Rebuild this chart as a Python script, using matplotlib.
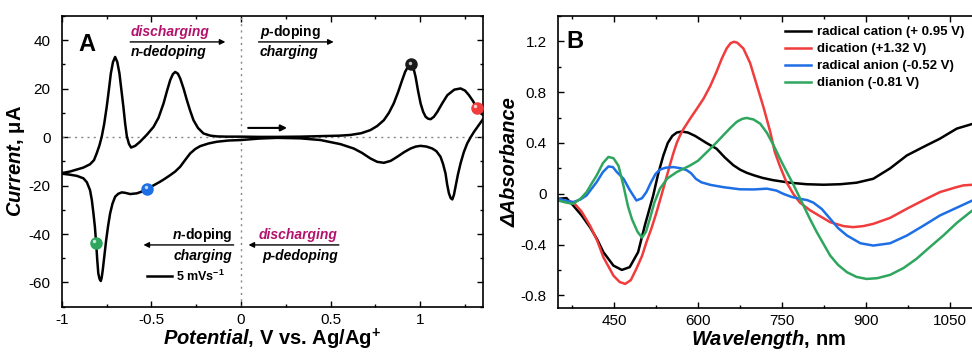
import matplotlib
matplotlib.use("Agg")
import matplotlib.pyplot as plt
from matplotlib.ticker import AutoMinorLocator, FuncFormatter, MultipleLocator
from matplotlib.transforms import offset_copy

plt.rcParams['font.family'] = 'Liberation Sans'
plt.rcParams['axes.unicode_minus'] = False
plt.rcParams['mathtext.fontset'] = 'custom'
plt.rcParams['mathtext.rm'] = 'Liberation Sans'
plt.rcParams['mathtext.it'] = 'Liberation Sans:italic:bold'
plt.rcParams['mathtext.bf'] = 'Liberation Sans:bold'

# ---- Panel A: cyclic voltammogram (anodic branch, then cathodic branch) ----
E_anodic = [-1.01, -0.954, -0.916, -0.88, -0.842, -0.82, -0.805, -0.79, -0.777, -0.763,
            -0.749, -0.737, -0.726, -0.714, -0.702, -0.690, -0.678, -0.667, -0.656, -0.646,
            -0.637, -0.625, -0.613, -0.59, -0.563, -0.525, -0.488, -0.46, -0.432, -0.413,
            -0.395, -0.38, -0.367, -0.352, -0.339, -0.32, -0.302, -0.283, -0.265, -0.24,
            -0.209, -0.17, -0.134, -0.08, 0.0, 0.1, 0.2, 0.331, 0.45, 0.55,
            0.61, 0.67, 0.722, 0.76, 0.797, 0.825, 0.852, 0.876, 0.899, 0.916,
            0.931, 0.942, 0.95, 0.962, 0.974, 0.988, 1.002, 1.016, 1.03, 1.044,
            1.058, 1.076, 1.095, 1.123, 1.151, 1.19, 1.225, 1.25, 1.272, 1.295,
            1.315, 1.335, 1.365]
I_anodic = [-15.0, -14.2, -13.4, -12.6, -11.2, -9.5, -6.7, -3.5, 0.1, 5.5,
            12.5, 19.5, 26.3, 31.0, 33.1, 31.0, 26.3, 19.5, 12.5, 5.5,
            0.5, -2.8, -4.3, -3.6, -1.9, 1.0, 4.2, 8.0, 13.9, 19.0,
            23.5, 26.0, 26.9, 26.2, 24.2, 20.0, 15.3, 10.8, 7.0, 3.8,
            1.5, 0.6, 0.3, 0.2, 0.2, 0.1, 0.1, 0.2, 0.4, 0.6,
            0.9, 1.6, 2.9, 4.6, 7.0, 10.0, 13.9, 18.5, 23.5, 27.0,
            29.0, 30.0, 30.1, 28.5, 24.9, 19.0, 13.9, 10.5, 8.4, 7.6,
            7.4, 8.4, 10.4, 14.0, 17.3, 19.6, 20.1, 19.2, 17.3, 14.8,
            12.1, 10.0, 8.3]

E_cathodic = [1.365, 1.35, 1.325, 1.3, 1.28, 1.262, 1.243, 1.225, 1.21, 1.197,
              1.188, 1.179, 1.17, 1.16, 1.15, 1.141, 1.127, 1.113, 1.09, 1.067,
              1.035, 1.002, 0.975, 0.946, 0.91, 0.872, 0.835, 0.797, 0.76, 0.722,
              0.675, 0.629, 0.555, 0.443, 0.331, 0.2, 0.1, 0.0, -0.07, -0.134,
              -0.18, -0.227, -0.255, -0.283, -0.31, -0.339, -0.367, -0.395, -0.425, -0.451,
              -0.49, -0.522, -0.55, -0.581, -0.618, -0.645, -0.665, -0.685, -0.702, -0.717,
              -0.730, -0.741, -0.752, -0.762, -0.771, -0.777, -0.782, -0.789, -0.796, -0.802,
              -0.808, -0.815, -0.823, -0.832, -0.842, -0.86, -0.879, -0.915, -0.954, -1.01]
I_cathodic = [8.3, 7.4, 4.8, 2.2, -0.2, -2.6, -6.2, -10.8, -15.5, -20.5,
              -23.8, -25.7, -25.2, -23.2, -19.5, -15.0, -11.0, -8.1, -5.8, -4.7,
              -3.9, -3.6, -3.9, -4.7, -6.2, -8.1, -9.8, -10.6, -10.2, -8.8,
              -6.5, -4.7, -2.9, -1.2, -0.5, -0.3, -0.6, -1.2, -1.4, -1.9,
              -2.6, -3.7, -4.9, -6.7, -9.3, -12.2, -14.2, -15.7, -17.2, -18.4,
              -20.0, -21.4, -22.4, -23.2, -23.5, -23.0, -22.8, -23.4, -24.6, -27.5,
              -31.5, -36.5, -42.5, -49.0, -54.8, -58.0, -59.4, -58.5, -56.2, -50.5,
              -43.6, -37.0, -31.5, -26.0, -21.9, -18.6, -17.0, -16.0, -15.5, -15.0]

# marked potentials (spectra taken there)
dot_E = [0.95, 1.317, -0.522, -0.808]
dot_I = [30.1, 12.1, -21.4, -43.6]
dot_colors = ['#1a1a1a', '#f03c3c', '#1e6fe6', '#2ea65e']

# ---- Panel B: difference absorption spectra ----
wl_cation = [350, 365, 377, 392, 407, 420, 431, 449, 464, 478, 493, 505, 520, 529, 538,
             546, 554, 562, 571, 582, 595, 615, 633, 648, 663, 675, 687, 700, 715, 734,
             764, 794, 824, 854, 883, 913, 943, 973, 1003, 1032, 1062, 1090]
abs_cation = [-0.04, -0.034, -0.092, -0.17, -0.263, -0.36, -0.46, -0.566, -0.60, -0.578,
              -0.46, -0.25, -0.013, 0.16, 0.30, 0.40, 0.455, 0.482, 0.49, 0.482,
              0.455, 0.40, 0.355, 0.285, 0.225, 0.19, 0.165, 0.145, 0.125, 0.107,
              0.087, 0.075, 0.071, 0.075, 0.087, 0.118, 0.20, 0.302, 0.37, 0.434,
              0.513, 0.55]

wl_dication = [350, 365, 377, 392, 407, 420, 431, 449, 460, 470, 480, 490, 500, 508, 517,
               526, 538, 550, 556, 562, 568, 574, 586, 598, 610, 622, 633, 642, 651, 658,
               664, 670, 681, 693, 705, 717, 729, 737, 746, 758, 770, 782, 800, 836, 860,
               877, 895, 913, 943, 973, 1003, 1032, 1060, 1074, 1090]
abs_dication = [-0.053, -0.06, -0.066, -0.14, -0.25, -0.37, -0.5, -0.645, -0.695, -0.71,
                -0.68, -0.59, -0.49, -0.38, -0.27, -0.145, 0.04, 0.23, 0.32, 0.40,
                0.46, 0.51, 0.592, 0.67, 0.75, 0.85, 0.96, 1.06, 1.144, 1.185,
                1.197, 1.19, 1.144, 1.03, 0.855, 0.68, 0.487, 0.33, 0.22, 0.09,
                0.0, -0.07, -0.13, -0.224, -0.255, -0.263, -0.255, -0.237, -0.19, -0.118,
                -0.05, 0.013, 0.05, 0.066, 0.071]

wl_anion = [350, 365, 377, 390, 401, 410, 419, 430, 440, 448, 455, 467, 478, 490, 500,
            508, 516, 524, 532, 542, 556, 570, 580, 588, 596, 606, 622, 645, 675, 700,
            723, 740, 752, 767, 782, 795, 806, 821, 836, 850, 866, 890, 913, 943, 973,
            1003, 1032, 1062, 1090]
abs_anion = [-0.039, -0.055, -0.066, -0.045, -0.013, 0.04, 0.092, 0.17, 0.215, 0.21,
             0.171, 0.118, 0.03, -0.053, -0.035, 0.015, 0.09, 0.155, 0.19, 0.205,
             0.21, 0.2, 0.185, 0.16, 0.118, 0.09, 0.07, 0.052, 0.035, 0.034,
             0.04, 0.025, 0.0, -0.025, -0.04, -0.05, -0.07, -0.12, -0.197, -0.27,
             -0.329, -0.39, -0.408, -0.39, -0.329, -0.25, -0.171, -0.11, -0.053]

wl_dianion = [350, 365, 377, 390, 401, 410, 419, 430, 440, 449, 458, 467, 475, 482, 492,
              500, 507, 514, 522, 532, 545, 562, 586, 600, 616, 630, 645, 658, 669, 679,
              687, 699, 711, 723, 735, 747, 758, 770, 788, 800, 812, 836, 850, 866, 883,
              901, 920, 943, 967, 990, 1014, 1038, 1062, 1090]
abs_dianion = [-0.053, -0.07, -0.079, -0.04, 0.013, 0.08, 0.144, 0.24, 0.29, 0.28,
               0.22, 0.06, -0.1, -0.2, -0.3, -0.345, -0.30, -0.197, -0.07, 0.04,
               0.12, 0.171, 0.223, 0.26, 0.329, 0.39, 0.46, 0.52, 0.566, 0.59,
               0.597, 0.585, 0.552, 0.48, 0.381, 0.27, 0.175, 0.075, -0.09, -0.2,
               -0.302, -0.487, -0.56, -0.618, -0.655, -0.671, -0.665, -0.639, -0.585, -0.513,
               -0.42, -0.329, -0.23, -0.131]

spectra = [
    (wl_cation, abs_cation, 'black', 'radical cation (+ 0.95 V)'),
    (wl_dication, abs_dication, '#f03c3c', 'dication (+1.32 V)'),
    (wl_anion, abs_anion, '#1e6fe6', 'radical anion (-0.52 V)'),
    (wl_dianion, abs_dianion, '#2ea65e', 'dianion (-0.81 V)'),
]

MAGENTA = '#b3126c'
fmt = FuncFormatter(lambda v, p: '%g' % v)


def style_axes(ax):
    for s in ax.spines.values():
        s.set_linewidth(1.2)
    ax.xaxis.set_minor_locator(AutoMinorLocator(2))
    ax.yaxis.set_minor_locator(AutoMinorLocator(2))
    ax.tick_params(which='both', direction='in', top=True, right=True, width=1.0)
    ax.tick_params(which='major', length=4.5, labelsize=11)
    ax.tick_params(which='minor', length=2.5)
    ax.tick_params(axis='x', pad=4.5)
    ax.tick_params(axis='y', pad=8)
    ax.xaxis.set_major_formatter(fmt)
    ax.yaxis.set_major_formatter(fmt)


fig = plt.figure(figsize=(9.72, 3.54), dpi=100)

# ---------------- Panel A ----------------
axA = fig.add_axes([0.0635, 0.1336, 0.4334, 0.8212])
axA.axhline(0, color='#888888', ls=(0, (1.5, 3)), lw=1)
axA.axvline(0, color='#888888', ls=(0, (1.5, 3)), lw=1)
axA.plot(E_anodic + E_cathodic, I_anodic + I_cathodic, color='black', lw=1.8,
         solid_joinstyle='round')

for e, i, c in zip(dot_E, dot_I, dot_colors):
    axA.plot([e], [i], 'o', ms=8, color=c, mec=c, zorder=5, clip_on=False)
    hl = offset_copy(axA.transData, fig=fig, x=-1.2, y=1.2, units='points')
    axA.plot([e], [i], 'o', ms=2.5, color='white', alpha=0.75, mew=0,
             transform=hl, zorder=6, clip_on=False)

axA.set_xlim(-1, 1.35)
axA.set_ylim(-70, 50)
axA.xaxis.set_major_locator(MultipleLocator(0.5))
axA.yaxis.set_major_locator(MultipleLocator(20))
style_axes(axA)
axA.set_xlabel(r'$\mathit{Potential}$, V vs. Ag/Ag$^{\mathbf{+}}$', fontsize=14.5,
               fontweight='bold', labelpad=0)
axA.set_ylabel(r'$\mathit{Current}$, μA', fontsize=14.5, fontweight='bold', labelpad=1)

axA.text(-0.86, 38.4, 'A', fontsize=17, fontweight='bold', ha='center', va='center')

arrow_kw = dict(arrowstyle='-|>', color='black', lw=1.0, mutation_scale=8,
                shrinkA=0, shrinkB=0)
# upper annotations
axA.text(-0.615, 43.4, 'discharging', color=MAGENTA, fontsize=10, fontweight='bold',
         style='italic', ha='left', va='center')
axA.annotate('', xy=(-0.087, 39.3), xytext=(-0.618, 39.3), arrowprops=arrow_kw)
axA.text(-0.615, 35.0, 'n-dedoping', fontsize=10, fontweight='bold', style='italic',
         ha='left', va='center')
axA.text(0.104, 43.4, r'$\mathit{p}$-doping', fontsize=10, fontweight='bold',
         ha='left', va='center')
axA.annotate('', xy=(0.517, 39.3), xytext=(0.098, 39.3), arrowprops=arrow_kw)
axA.text(0.104, 35.0, 'charging', fontsize=10, fontweight='bold', style='italic',
         ha='left', va='center')
axA.annotate('', xy=(0.257, 3.8), xytext=(0.04, 3.8),
             arrowprops=dict(arrowstyle='-|>', color='black', lw=1.5, mutation_scale=9,
                             shrinkA=0, shrinkB=0))

# lower annotations
axA.text(-0.05, -40.6, r'$\mathit{n}$-doping', fontsize=10, fontweight='bold',
         ha='right', va='center')
axA.annotate('', xy=(-0.544, -44.5), xytext=(-0.041, -44.5), arrowprops=arrow_kw)
axA.text(-0.05, -48.9, 'charging', fontsize=10, fontweight='bold', style='italic',
         ha='right', va='center')
axA.text(0.54, -40.6, 'discharging', color=MAGENTA, fontsize=10, fontweight='bold',
         style='italic', ha='right', va='center')
axA.annotate('', xy=(0.042, -44.5), xytext=(0.546, -44.5), arrowprops=arrow_kw)
axA.text(0.54, -48.9, 'p-dedoping', fontsize=10, fontweight='bold', style='italic',
         ha='right', va='center')

# scan-rate key
axA.plot([-0.525, -0.385], [-57.3, -57.3], color='black', lw=1.8)
axA.text(-0.365, -57.3, r'5 mVs$^{\mathbf{-1}}$', fontsize=9, fontweight='bold',
         ha='left', va='center')

# ---------------- Panel B ----------------
axB = fig.add_axes([0.5741, 0.1299, 0.4321, 0.8249])
for wl, ab, c, lab in spectra:
    axB.plot(wl, ab, color=c, lw=1.8, label=lab, solid_joinstyle='round')
axB.set_xlim(350, 1100)
axB.set_ylim(-0.9, 1.4)
axB.xaxis.set_major_locator(MultipleLocator(150))
axB.yaxis.set_major_locator(MultipleLocator(0.4))
style_axes(axB)
axB.set_xlabel(r'$\mathit{Wavelength}$, nm', fontsize=14.5, fontweight='bold', labelpad=0)
axB.set_ylabel('ΔAbsorbance', fontsize=14.5, fontweight='bold', style='italic', labelpad=1)
axB.text(380, 1.2, 'B', fontsize=17, fontweight='bold', ha='center', va='center')

axB.legend(loc='upper left', bbox_to_anchor=(785 / 972, 1 - 26 / 354),
           bbox_transform=fig.transFigure, frameon=False, borderpad=0,
           borderaxespad=0, handlelength=2.0, handletextpad=0.4, labelspacing=0.36,
           prop={'weight': 'bold', 'size': 9.5})

fig.savefig('out.png', dpi=100)
